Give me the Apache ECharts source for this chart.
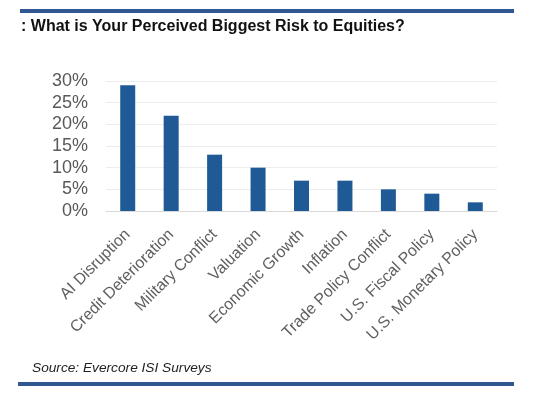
<!DOCTYPE html>
<html><head><meta charset="utf-8">
<script src="https://cdn.jsdelivr.net/npm/echarts@6/dist/echarts.min.js"></script>
<style>html,body{margin:0;padding:0;background:#fff}#c{width:550px;height:395px}</style>
</head><body><div id="c"></div>
<script>
const categories = ['AI Disruption','Credit Deterioration','Military Conflict','Valuation','Economic Growth','Inflation','Trade Policy Conflict','U.S. Fiscal Policy','U.S. Monetary Policy'];
const values = [29, 22, 13, 10, 7, 7, 5, 4, 2];
const yTicks = [0, 5, 10, 15, 20, 25, 30];
const titleText = ': What is Your Perceived Biggest Risk to Equities?';
const sourceText = 'Source: Evercore ISI Surveys';

const FONT = '"Liberation Sans", Arial, sans-serif';
const chart = echarts.init(document.getElementById('c'), null, {renderer:'canvas'});
chart.setOption({
  animation: false,
  backgroundColor: '#fff',
  grid: {left: 106, right: 53, top: 81, bottom: 184, containLabel: false},
  xAxis: {
    type: 'category', data: categories,
    axisLine: {lineStyle: {color: '#d9d9d9', width: 1}},
    axisTick: {show: false},
    axisLabel: {interval: 0, rotate: 45, margin: 21, fontSize: 16, color: '#5f5f5f', fontFamily: FONT}
  },
  yAxis: {
    type: 'value', min: yTicks[0], max: yTicks[yTicks.length-1], interval: yTicks[1]-yTicks[0],
    axisLine: {show: false}, axisTick: {show: false},
    splitLine: {lineStyle: {color: '#ededed', width: 1}},
    axisLabel: {formatter: '{value}%', fontSize: 18, color: '#595959', margin: 18, fontFamily: FONT}
  },
  series: [{
    type: 'bar', data: values, barWidth: 15,
    itemStyle: {color: '#1f5a96'}
  }],
  graphic: [
    {type:'rect', shape:{x:20, y:9, width:494, height:4}, style:{fill:'#30578f'}},
    {type:'rect', shape:{x:18, y:382, width:496, height:4}, style:{fill:'#30578f'}},
    {type:'text', left: 21, top: 19, style:{text: titleText, font: 'bold 16px ' + FONT, fill:'#111'}},
    {type:'text', left: 32, top: 361, style:{text: sourceText, font: 'italic 13.7px ' + FONT, fill:'#222'}}
  ]
});
</script></body></html>
